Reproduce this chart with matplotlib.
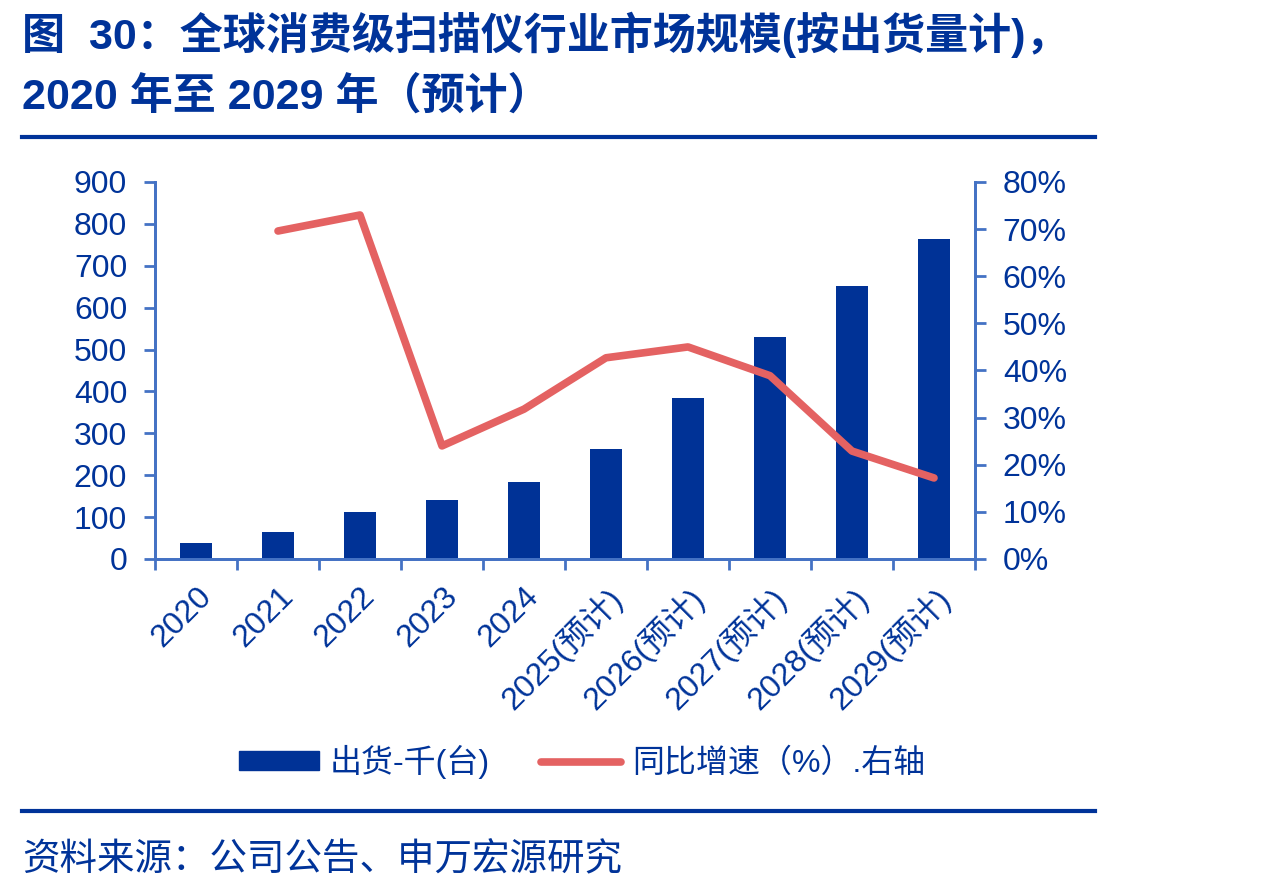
import matplotlib
matplotlib.use("Agg")
import matplotlib.pyplot as plt
from matplotlib.lines import Line2D
from matplotlib.patches import Patch
from matplotlib.ticker import FuncFormatter

plt.rcParams['font.family'] = ['Liberation Sans', 'Noto Sans CJK SC']

# ---- data ----
years = ["2020", "2021", "2022", "2023", "2024",
         "2025(预计)", "2026(预计)", "2027(预计)", "2028(预计)", "2029(预计)"]
shipments = [38, 64, 112, 141, 184, 263, 384, 530, 652, 764]      # 千台
growth = [None, 69.6, 73.0, 24.0, 31.8, 42.7, 45.0, 38.9, 22.9, 17.2]  # %

TXT = "#003399"
BAR = "#003296"
LINE = "#E46262"
AXC = "#4472C4"
FS = 23

fig = plt.figure(figsize=(12.64, 8.93), dpi=100)
ax = fig.add_axes([155 / 1264, 1 - 559 / 893, 820 / 1264, 377 / 893])
ax2 = ax.twinx()

x = list(range(len(years)))
ax.bar(x, shipments, width=0.4, color=BAR, zorder=2)

gx = [i for i, g in zip(x, growth) if g is not None]
gy = [g for g in growth if g is not None]
ax2.plot(gx, gy, color=LINE, lw=5.5, solid_capstyle="round", solid_joinstyle="round")

ax.set_xlim(-0.5, len(years) - 0.5)
ax.set_ylim(0, 900)
ax.set_yticks(range(0, 901, 100))
ax2.set_ylim(0, 80)
ax2.set_yticks(range(0, 81, 10))
ax2.yaxis.set_major_formatter(FuncFormatter(lambda v, _: f"{v:.0f}%"))

# category ticks at boundaries, labels at centres
ax.set_xticks([i - 0.5 for i in range(len(years) + 1)])
ax.set_xticklabels([])
ax.set_xticks(x, minor=True)
ax.set_xticklabels(years, minor=True, rotation=45, ha="right", va="top",
                   rotation_mode="anchor", fontsize=FS, color=TXT)
ax.tick_params(axis="x", which="minor", length=0, pad=16)
ax.tick_params(axis="x", which="major", length=8, width=2, color=AXC, direction="out")
ax.tick_params(axis="y", length=8, width=2, color=AXC, labelsize=FS, labelcolor=TXT, pad=12)
ax2.tick_params(axis="y", length=8, width=2, color=AXC, labelsize=FS, labelcolor=TXT, pad=12)

for a in (ax, ax2):
    a.spines["top"].set_visible(False)
    for s in ("left", "right", "bottom"):
        a.spines[s].set_color(AXC)
        a.spines[s].set_linewidth(2)

# legend
handles = [Patch(facecolor=BAR, edgecolor=BAR),
           Line2D([0], [0], color=LINE, lw=5.5, solid_capstyle="round")]
fig.legend(handles, ["出货-千(台)", "同比增速（%）.右轴"], loc="center",
           bbox_to_anchor=(582 / 1264, 1 - 762 / 893), ncol=2, frameon=False,
           fontsize=FS, labelcolor=TXT, handlelength=2.5, handleheight=0.55,
           columnspacing=1.6, handletextpad=0.35)

# title and rules
fig.text(22 / 1264, 1 - 35 / 893, "图  30：全球消费级扫描仪行业市场规模(按出货量计)，",
         fontsize=31, fontweight="bold", color=TXT, va="center", ha="left")
fig.text(22 / 1264, 1 - 97 / 893, "2020 年至 2029 年（预计）",
         fontsize=31, fontweight="bold", color=TXT, va="center", ha="left")
fig.add_artist(Line2D([22 / 1264, 1095 / 1264], [1 - 137 / 893] * 2, color=TXT, lw=3))
fig.add_artist(Line2D([22 / 1264, 1095 / 1264], [1 - 811 / 893] * 2, color=TXT, lw=3))
fig.text(22 / 1264, 1 - 860 / 893, "资料来源：公司公告、申万宏源研究",
         fontsize=27, color=TXT, va="center", ha="left")

fig.savefig("out.png", dpi=100)
